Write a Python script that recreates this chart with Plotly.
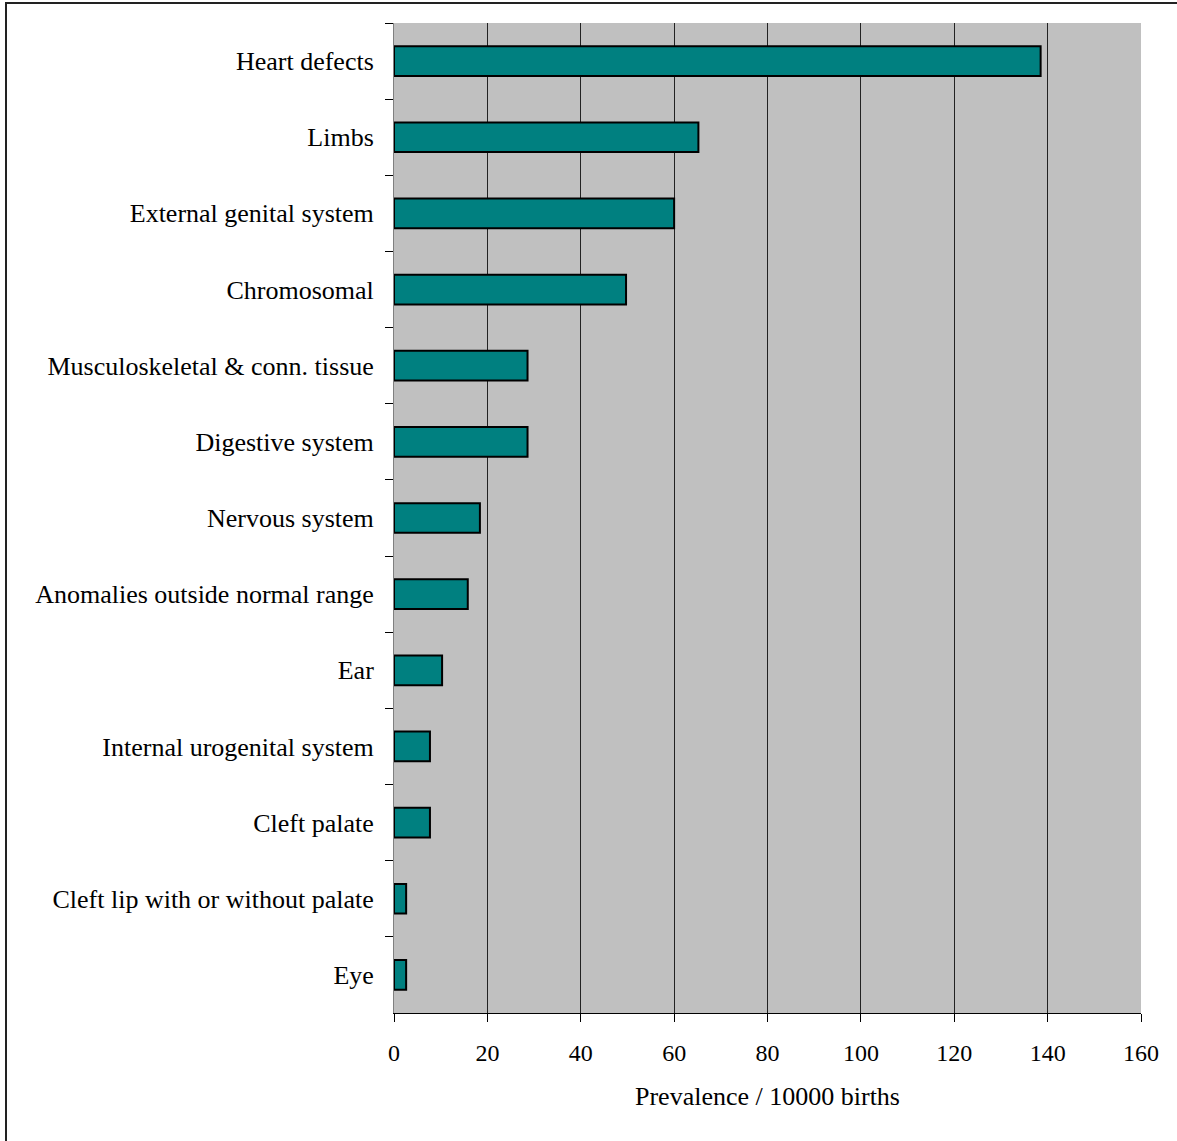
import plotly.graph_objects as go

# Congenital anomaly groups, listed top to bottom
categories = [
    "Heart defects",
    "Limbs",
    "External genital system",
    "Chromosomal",
    "Musculoskeletal & conn. tissue",
    "Digestive system",
    "Nervous system",
    "Anomalies outside normal range",
    "Ear",
    "Internal urogenital system",
    "Cleft palate",
    "Cleft lip with or without palate",
    "Eye",
]
prevalence = [138.5, 65.2, 60.0, 49.7, 28.6, 28.6, 18.4, 15.8, 10.3, 7.7, 7.7, 2.6, 2.6]
x_ticks = [0, 20, 40, 60, 80, 100, 120, 140, 160]

W, H = 1177, 1141
ML, MR, MT, MB = 394, 36, 23, 128
plot_w = W - ML - MR
plot_h = H - MT - MB

FONT = "Liberation Serif"

fig = go.Figure(
    go.Bar(
        x=prevalence,
        y=categories,
        orientation="h",
        marker=dict(color="#008080", line=dict(color="#000000", width=2)),
        width=0.39,
    )
)

# Frame around the whole chart (extends past right and bottom edges)
fig.add_shape(
    type="rect", xref="paper", yref="paper",
    x0=(6 - ML) / plot_w, x1=(W + 10 - ML) / plot_w,
    y0=-(MB + 10) / plot_h, y1=1 + (MT - 3) / plot_h,
    line=dict(color="#222222", width=2), fillcolor="rgba(0,0,0,0)", layer="below",
)

fig.update_layout(
    width=W, height=H,
    margin=dict(l=ML, r=MR, t=MT, b=MB, pad=0),
    paper_bgcolor="white",
    plot_bgcolor="#C0C0C0",
    font=dict(family=FONT, size=24, color="#000000"),
    showlegend=False,
    bargap=0.61,
    xaxis=dict(
        range=[0, 160],
        tickvals=x_ticks,
        tickfont=dict(family=FONT, size=24),
        ticks="outside", ticklen=8, tickcolor="#000000", tickwidth=1,
        showgrid=True, gridcolor="#222222", gridwidth=1,
        showline=True, linecolor="#000000", linewidth=1,
        zeroline=False,
        ticklabelstandoff=10,
        title=dict(text="Prevalence / 10000 births", standoff=22, font=dict(family=FONT, size=26)),
    ),
    yaxis=dict(
        categoryorder="array", categoryarray=categories,
        autorange="reversed",
        tickfont=dict(family=FONT, size=26),
        ticks="outside", ticklen=8, tickcolor="#000000", tickwidth=1,
        tickson="boundaries",
        showgrid=False,
        showline=True, linecolor="#808080", linewidth=1,
        ticklabelstandoff=14,
    ),
)

fig.write_html("out.html")
